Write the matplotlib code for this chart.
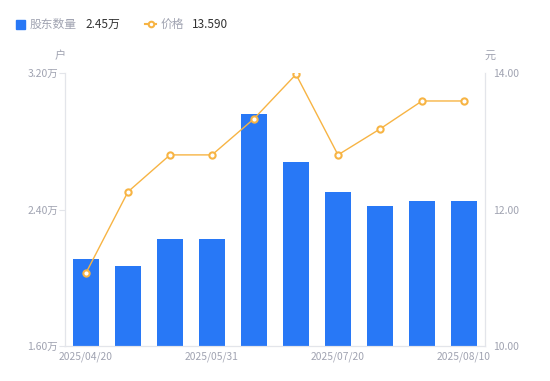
import matplotlib.pyplot as plt
from matplotlib.lines import Line2D

plt.rcParams['font.family'] = ['Noto Sans CJK SC', 'DejaVu Sans']

dates = ["2025/04/20", "2025/04/30", "2025/05/20", "2025/05/31", "2025/06/10",
         "2025/06/30", "2025/07/20", "2025/07/31", "2025/08/01", "2025/08/10"]
holders = [2.11, 2.07, 2.23, 2.23, 2.96, 2.68, 2.50, 2.42, 2.45, 2.45]  # 万户
price = [11.07, 12.26, 12.80, 12.80, 13.33, 13.98, 12.80, 13.18, 13.59, 13.59]
tick_idx = [0, 3, 6, 9]

blue = "#2878F6"
orange = "#F7B444"
grey = "#A0A3B1"
axis_c = "#E3E5EA"

fig = plt.figure(figsize=(5.5, 3.81), dpi=100)
ax = fig.add_axes([65/550, 35/381, 420/550, 273/381])
ax2 = ax.twinx()

x = list(range(len(dates)))
ax.bar(x, holders, width=0.6, color=blue, zorder=2)
ax.set_xlim(-0.5, len(dates) - 0.5)
ax.set_ylim(1.6, 3.2)
ax.set_yticks([1.6, 2.4, 3.2])
ax.set_yticklabels(["1.60万", "2.40万", "3.20万"])

ax2.plot(x, price, color=orange, lw=1, marker="o", ms=4.5,
         mfc="white", mec=orange, mew=1.5, zorder=3)
ax2.set_ylim(10, 14)
ax2.set_yticks([10, 12, 14])
ax2.set_yticklabels(["10.00", "12.00", "14.00"])

ax.set_xticks(tick_idx)
ax.set_xticklabels([dates[i] for i in tick_idx])

for a in (ax, ax2):
  for s in a.spines.values():
    s.set_color(axis_c)
  a.spines["top"].set_visible(False)
  a.tick_params(colors=grey, labelsize=7.5, length=4, width=0.8)
  a.tick_params(axis="y", color=axis_c)
ax.tick_params(axis="x", length=0, pad=4, labelsize=7.4)
ax2.tick_params(axis="y", length=0, pad=6)
ax.tick_params(axis="y", pad=1)
ax.set_zorder(ax2.get_zorder() - 1)
ax.patch.set_visible(False)

fig.text(60/550, 1 - 56/381, "户", color=grey, fontsize=8, ha="center", va="center")
fig.text(490/550, 1 - 56/381, "元", color=grey, fontsize=8, ha="center", va="center")

# legend
fig.patches.append(plt.Rectangle((16/550, 1 - 29/381), 9/550, 9/381,
                                 transform=fig.transFigure, color=blue))
fig.text(30/550, 1 - 24/381, "股东数量", color=grey, fontsize=8.5, va="center")
fig.text(85/550, 1 - 24/381, "2.45万", color="#333333", fontsize=8.5, va="center")
fig.lines.append(Line2D([145/550, 156/550], [1 - 24/381, 1 - 24/381],
                        transform=fig.transFigure, color=orange, lw=1.5))
fig.lines.append(Line2D([150.5/550], [1 - 24/381], transform=fig.transFigure,
                        color=orange, marker="o", ms=4, mfc="white", mew=1.5))
fig.text(161/550, 1 - 24/381, "价格", color=grey, fontsize=8.5, va="center")
fig.text(192/550, 1 - 24/381, "13.590", color="#333333", fontsize=8.5, va="center")

fig.savefig("out.png", dpi=100)
